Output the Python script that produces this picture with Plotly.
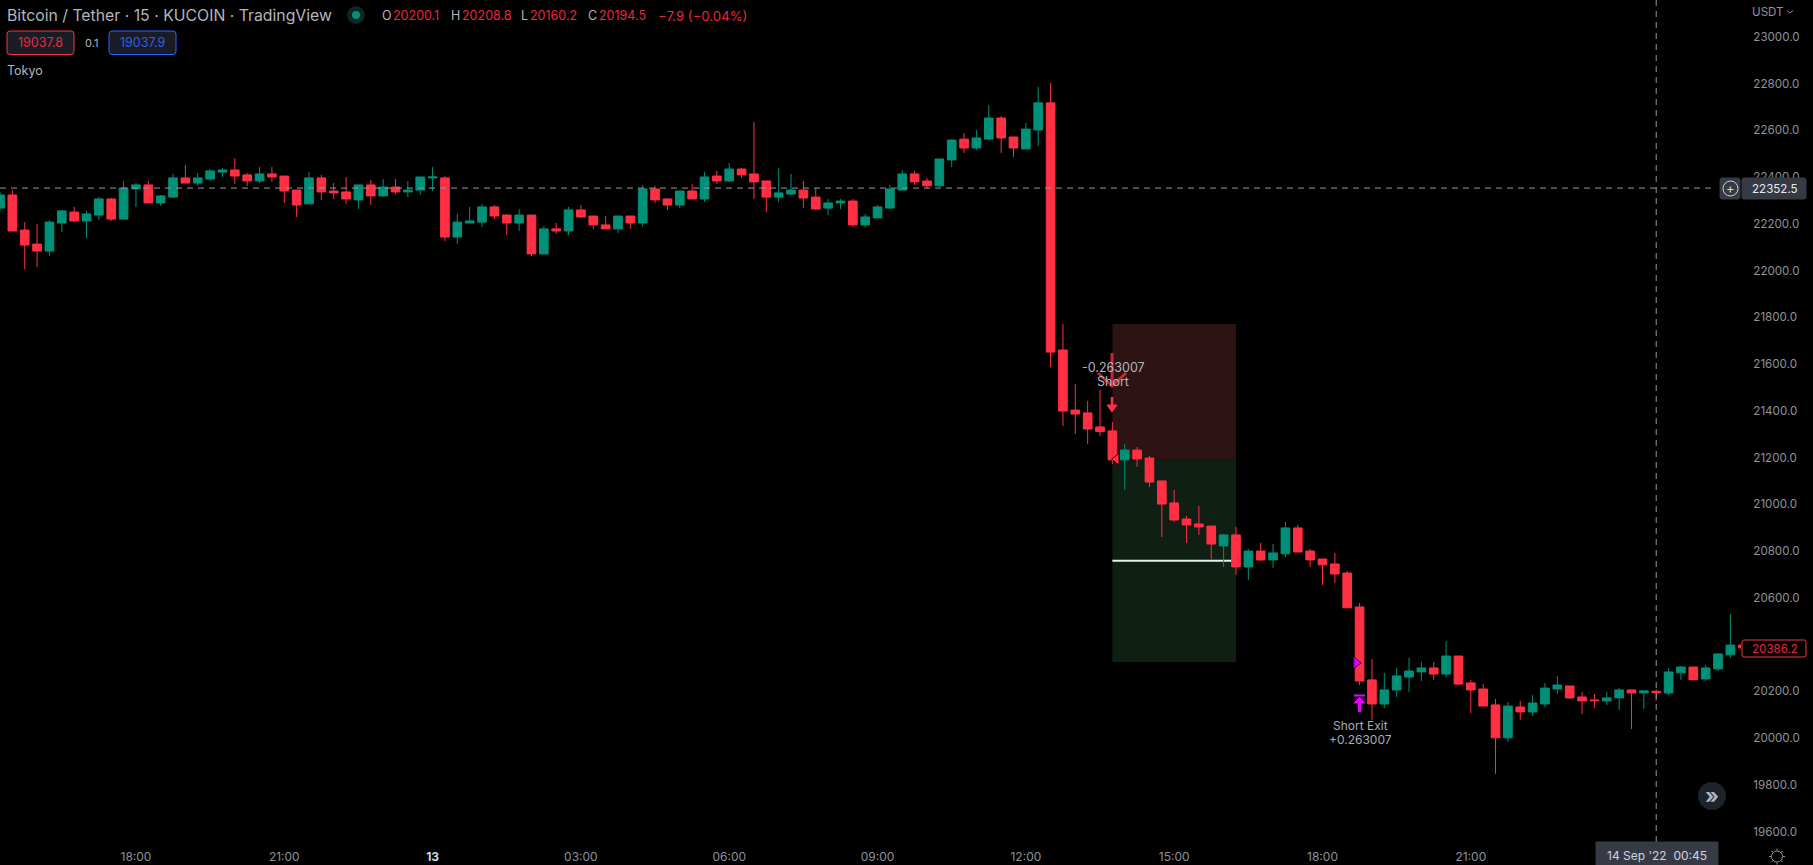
import pandas as pd
import plotly.graph_objects as go

# 15 minute candles from 12 Sep 2022 15:15
opens = [22267, 22323, 22173, 22113, 22083, 22203, 22250, 22212, 22237, 22306, 22220, 22349, 22366, 22289, 22314, 22396, 22374, 22391, 22421, 22430,
         22409, 22383, 22413, 22404, 22344, 22285, 22396, 22340, 22336, 22302, 22366, 22319, 22357, 22336, 22344, 22396, 22396, 22143, 22203, 22207,
         22272, 22237, 22203, 22237, 22071, 22178, 22169, 22259, 22233, 22195, 22178, 22233, 22203, 22349, 22306, 22280, 22340, 22306, 22404, 22383,
         22434, 22413, 22383, 22314, 22327, 22344, 22314, 22267, 22289, 22297, 22195, 22225, 22267, 22344, 22413, 22383, 22362, 22473, 22562, 22524,
         22562, 22652, 22571, 22520, 22601, 22717, 21660, 21403, 21391, 21331, 21314, 21190, 21232, 21198, 21100, 21006, 20937, 20916, 20907, 20822,
         20869, 20732, 20800, 20762, 20788, 20899, 20800, 20766, 20745, 20706, 20561, 20249, 20146, 20206, 20261, 20283, 20300, 20274, 20351, 20236,
         20210, 20142, 20001, 20133, 20112, 20146, 20210, 20223, 20176, 20163, 20159, 20172, 20206, 20193, 20200.1, 20193, 20279, 20304, 20253, 20296,
         20356, 20398]
highs = [22336, 22344, 22207, 22199, 22216, 22259, 22272, 22255, 22314, 22310, 22383, 22374, 22383, 22323, 22413, 22451, 22417, 22434, 22438, 22481,
         22417, 22443, 22443, 22404, 22344, 22421, 22409, 22374, 22400, 22366, 22387, 22391, 22391, 22383, 22400, 22443, 22404, 22242, 22272, 22285,
         22280, 22242, 22263, 22237, 22190, 22203, 22272, 22280, 22233, 22233, 22233, 22233, 22366, 22362, 22310, 22340, 22370, 22421, 22426, 22460,
         22438, 22635, 22383, 22438, 22413, 22383, 22353, 22306, 22306, 22306, 22242, 22280, 22366, 22430, 22426, 22396, 22477, 22562, 22588, 22601,
         22708, 22661, 22571, 22631, 22785, 22802, 21771, 21515, 21442, 21489, 21352, 21258, 21245, 21207, 21100, 21061, 20950, 20993, 20907, 20873,
         20903, 20809, 20835, 20830, 20924, 20912, 20809, 20766, 20792, 20715, 20578, 20338, 20279, 20300, 20343, 20326, 20326, 20415, 20351, 20249,
         20231, 20167, 20155, 20159, 20184, 20236, 20266, 20223, 20197, 20189, 20197, 20214, 20206, 20202, 20208.8, 20300, 20309, 20304, 20313, 20364,
         20531, 20398]
lows = [22255, 22169, 22006, 22015, 22062, 22165, 22207, 22139, 22216, 22212, 22220, 22272, 22289, 22276, 22310, 22374, 22362, 22383, 22400, 22370,
        22362, 22374, 22379, 22289, 22229, 22285, 22302, 22306, 22285, 22263, 22280, 22314, 22327, 22314, 22323, 22340, 22126, 22113, 22203, 22186,
        22220, 22152, 22169, 22062, 22071, 22156, 22152, 22225, 22178, 22178, 22160, 22178, 22186, 22289, 22259, 22267, 22306, 22293, 22370, 22379,
        22396, 22306, 22250, 22293, 22323, 22267, 22259, 22237, 22263, 22186, 22186, 22225, 22263, 22344, 22366, 22353, 22357, 22443, 22503, 22515,
        22562, 22503, 22486, 22520, 22533, 21587, 21335, 21301, 21258, 21292, 21172, 21061, 21160, 21074, 20860, 20924, 20835, 20869, 20766, 20732,
        20698, 20676, 20758, 20728, 20775, 20796, 20732, 20655, 20664, 20557, 20227, 20078, 20129, 20176, 20197, 20244, 20249, 20261, 20227, 20107,
        20137, 19847, 19983, 20078, 20095, 20133, 20189, 20167, 20103, 20129, 20142, 20120, 20039, 20125, 20160.2, 20184, 20249, 20249, 20244, 20287,
        20343, 20386.2]
closes = [22323, 22169, 22109, 22083, 22207, 22255, 22212, 22242, 22306, 22220, 22353, 22366, 22289, 22319, 22396, 22374, 22396, 22426, 22430, 22404,
          22383, 22413, 22400, 22340, 22280, 22396, 22336, 22332, 22306, 22366, 22319, 22357, 22336, 22344, 22400, 22400, 22143, 22207, 22212, 22272,
          22233, 22203, 22237, 22071, 22178, 22169, 22259, 22229, 22195, 22178, 22233, 22203, 22349, 22302, 22280, 22340, 22306, 22400, 22383, 22434,
          22409, 22379, 22314, 22332, 22344, 22310, 22263, 22289, 22297, 22195, 22229, 22272, 22349, 22413, 22379, 22362, 22477, 22558, 22524, 22567,
          22652, 22567, 22524, 22605, 22717, 21651, 21399, 21386, 21322, 21311, 21190, 21232, 21194, 21095, 21001, 20933, 20912, 20903, 20830, 20869,
          20732, 20800, 20762, 20792, 20899, 20796, 20762, 20741, 20702, 20557, 20244, 20146, 20206, 20266, 20287, 20300, 20274, 20351, 20231, 20206,
          20137, 20001, 20137, 20112, 20150, 20214, 20227, 20172, 20159, 20160, 20172, 20206, 20193, 20202, 20194.5, 20283, 20304, 20249, 20300, 20360,
          20398, 20386.2]

start_time = pd.Timestamp("2022-09-12 15:15")
times = pd.date_range(start_time, periods=len(opens), freq="15min")

# 20400 sits behind the last price label, TradingView drops it
price_ticks = [19600, 19800, 20000, 20200, 20600, 20800, 21000, 21200, 21400, 21600, 21800, 22000, 22200, 22400, 22600, 22800, 23000]
time_tick_values = ["2022-09-12 18:00", "2022-09-12 21:00", "2022-09-13 00:00", "2022-09-13 03:00", "2022-09-13 06:00",
                    "2022-09-13 09:00", "2022-09-13 12:00", "2022-09-13 15:00", "2022-09-13 18:00", "2022-09-13 21:00"]
time_tick_labels = ["18:00", "21:00", "<b style='color:#d1d4dc'>13</b>", "03:00", "06:00", "09:00", "12:00", "15:00", "18:00", "21:00"]

# trade box
box_start = times[90]
box_end = times[100]
stop_price = 21771
entry_price = 21193
target_price = 20325
mid_price = 20759
cross_price = 22352.5
cross_time = "2022-09-14 00:45"

UP = "#009178"
DOWN = "#ff3044"
MAGENTA = "#e600ff"
TEXT = "#8f929b"
PRICE_RED = "#e8283e"
FONT = "Inter"
W, H = 1813, 865
PLOT_W, PLOT_H = 1741, 842


def fx(px):
    return px / PLOT_W


def fy(py):
    return 1 - py / PLOT_H


fig = go.Figure()
fig.add_trace(go.Candlestick(
    x=times, open=opens, high=highs, low=lows, close=closes,
    increasing=dict(line=dict(color=UP, width=1), fillcolor=UP),
    decreasing=dict(line=dict(color=DOWN, width=1), fillcolor=DOWN),
    whiskerwidth=0, showlegend=False, hoverinfo="skip",
))
# entry and exit markers
fig.add_trace(go.Scatter(x=[times[90] + pd.Timedelta(minutes=5)], y=[21193], mode="markers", showlegend=False, hoverinfo="skip",
                         marker=dict(symbol="triangle-left", size=10, color=DOWN, line=dict(color="#400010", width=1))))
fig.add_trace(go.Scatter(x=[times[110] - pd.Timedelta(minutes=4)], y=[20322], mode="markers", showlegend=False, hoverinfo="skip",
                         marker=dict(symbol="triangle-right", size=10, color=MAGENTA, line=dict(color="#400050", width=1))))

fig.add_shape(type="rect", x0=box_start, x1=box_end, y0=entry_price, y1=stop_price, fillcolor="#2e1314", line_width=0, layer="below")
fig.add_shape(type="rect", x0=box_start, x1=box_end, y0=target_price, y1=entry_price, fillcolor="#101f14", line_width=0, layer="below")
fig.add_shape(type="line", x0=box_start, x1=box_end, y0=mid_price, y1=mid_price, line=dict(color="#e4f2e4", width=2), layer="below")

# crosshair
fig.add_shape(type="line", xref="paper", x0=0, x1=fx(1716), y0=cross_price, y1=cross_price, line=dict(color="#9598a1", width=1, dash="6px,5px"))
fig.add_shape(type="line", yref="paper", x0=cross_time, x1=cross_time, y0=0, y1=1, line=dict(color="#9598a1", width=1, dash="6px,5px"))


def panel(x0, y0, x1, y1, fill, border=None, r=2):
    xa, xb, ya, yb = fx(x0), fx(x1), fy(y0), fy(y1)
    dx, dy = r / PLOT_W, r / PLOT_H
    path = (f"M {xa + dx} {ya} L {xb - dx} {ya} Q {xb} {ya} {xb} {ya - dy} L {xb} {yb + dy} Q {xb} {yb} {xb - dx} {yb} "
            f"L {xa + dx} {yb} Q {xa} {yb} {xa} {yb + dy} L {xa} {ya - dy} Q {xa} {ya} {xa + dx} {ya} Z")
    fig.add_shape(type="path", xref="paper", yref="paper", path=path, fillcolor=fill, line=dict(color=border or fill, width=1))


def glyph(points, color, width=0, fill=None):
    # small icon drawn in page pixels
    path = "M " + " L ".join(f"{fx(a)} {fy(b)}" for a, b in points)
    if fill:
        path += " Z"
    fig.add_shape(type="path", xref="paper", yref="paper", path=path, fillcolor=fill, line=dict(color=color, width=width))


def label(px, py, text, color=TEXT, size=12, anchor="left", family=FONT):
    fig.add_annotation(xref="paper", yref="paper", x=fx(px), y=fy(py), text=text, showarrow=False, xanchor=anchor, yanchor="middle",
                       font=dict(family=family, size=size, color=color), borderpad=0, borderwidth=0)


# header
label(7, 15.5, "Bitcoin / Tether · 15 · KUCOIN · TradingView", "#b2b5be", 15.8)
fig.add_shape(type="circle", xref="paper", yref="paper", x0=fx(347), x1=fx(365), y0=fy(24), y1=fy(6), fillcolor="#0c2622", line_width=0)
fig.add_shape(type="circle", xref="paper", yref="paper", x0=fx(352), x1=fx(360), y0=fy(19), y1=fy(11), fillcolor=UP, line_width=0)
for px, text, color, size in [(382, "O", "#b2b5be", 12.5), (393, "20200.1", PRICE_RED, 12.5), (451, "H", "#b2b5be", 12.5), (462, "20208.8", PRICE_RED, 12.5),
                              (521, "L", "#b2b5be", 12.5), (530, "20160.2", PRICE_RED, 12.5), (588, "C", "#b2b5be", 12.5), (599, "20194.5", PRICE_RED, 12.5),
                              (658, "−7.9 (−0.04%)", PRICE_RED, 13.2)]:
    label(px, 15.5, text, color, size)
panel(7, 31, 74, 54.5, "#191c25", "#f23645", 3)
label(40.5, 43, "19037.8", PRICE_RED, 12.5, "center")
label(91, 43, "0.1", "#b2b5be", 11, "center")
panel(109, 31, 176, 54.5, "#191c25", "#2962ff", 3)
label(142.5, 43, "19037.9", "#2d5fe8", 12.5, "center")
label(7, 71, "Tokyo", "#b2b5be", 12.5)

# trade arrows and labels
faded = "rgba(255,48,68,0.75)"
glyph([(1112, 353), (1112, 385)], faded, 3)
glyph([(1098, 373), (1112, 386), (1126, 373)], faded, 3)
glyph([(1112, 397), (1112, 406)], DOWN, 2.5)
glyph([(1107, 405), (1117, 405), (1112, 412)], DOWN, 1, DOWN)
glyph([(1354, 695.5), (1365, 695.5)], MAGENTA, 2)
glyph([(1359.5, 703), (1359.5, 712)], MAGENTA, 3)
glyph([(1354, 703), (1365, 703), (1359.5, 697.5)], MAGENTA, 1, MAGENTA)
label(1113, 367.5, "-0.263007", "#b2b5be", 12.5, "center")
label(1113, 381.5, "Short", "#b2b5be", 12.5, "center")
label(1360, 725, "Short Exit", "#a8abb4", 12, "center")
label(1360, 739, "+0.263007", "#a8abb4", 12, "center")

# price axis extras
label(1752, 12.5, "USDT", TEXT, 11.6)
glyph([(1787, 10.5), (1790, 13), (1793, 10.5)], TEXT, 1)
panel(1720, 178, 1740, 199, "#363a45")
panel(1742, 178, 1806, 199, "#363a45")
fig.add_shape(type="circle", xref="paper", yref="paper", x0=fx(1723), x1=fx(1738), y0=fy(196), y1=fy(181), line=dict(color="#d1d4dc", width=1))
label(1730.5, 188, "+", "#d1d4dc", 13, "center")
label(1752, 188.5, "22352.5", "#e8e9ed", 11.6)
panel(1742, 640, 1806, 657, "#000000", "#f23645")
label(1752, 648.5, "20386.2", PRICE_RED, 11.6)

# time axis extras
panel(1596, 842, 1718, 866, "#363a45", None, 0)
label(1657, 855, "14 Sep '22  00:45", "#d1d4dc", 12, "center")
fig.add_shape(type="circle", xref="paper", yref="paper", x0=fx(1698), x1=fx(1726), y0=fy(810), y1=fy(782), fillcolor="#1e222d", line_width=0)
label(1712, 795, "<b>»</b>", "#b2b5be", 21, "center")
fig.add_shape(type="circle", xref="paper", yref="paper", x0=fx(1771.5), x1=fx(1782.5), y0=fy(862), y1=fy(851), line=dict(color=TEXT, width=1))
for a, b, c, d in [(1777, 848.5, 1777, 850.5), (1777, 862.5, 1777, 864.5), (1769, 856.5, 1771, 856.5), (1783, 856.5, 1785, 856.5),
                   (1771.5, 851, 1773, 852.5), (1781, 860.5, 1782.5, 862), (1782.5, 851, 1781, 852.5), (1773, 860.5, 1771.5, 862)]:
    glyph([(a, b), (c, d)], TEXT, 1)

fig.update_layout(
    width=W, height=H,
    margin=dict(l=0, r=W - PLOT_W, t=0, b=H - PLOT_H, autoexpand=False),
    paper_bgcolor="#000000", plot_bgcolor="#000000",
    font=dict(family=FONT, size=12, color=TEXT),
    showlegend=False,
    boxgap=0.3, boxgroupgap=0,
    xaxis=dict(
        type="date", rangeslider=dict(visible=False), showgrid=False, zeroline=False, showline=False,
        range=[start_time, start_time + pd.Timedelta(minutes=15 * 140.86)],
        tickmode="array", tickvals=time_tick_values, ticktext=time_tick_labels,
        ticks="outside", ticklen=4, tickcolor="#000000", tickfont=dict(family=FONT, size=12, color=TEXT),
    ),
    yaxis=dict(
        side="right", showgrid=False, zeroline=False, showline=False,
        range=[19555.6, 23157],
        tickmode="array", tickvals=price_ticks, ticktext=[f"{p:.1f}" for p in price_ticks],
        ticks="outside", ticklen=9, tickcolor="#000000", tickfont=dict(family=FONT, size=11.6, color=TEXT),
    ),
)

fig.write_html("out.html", config=dict(displayModeBar=False),
               post_script="document.body.style.margin='0';document.body.style.background='#000';document.documentElement.style.overflow='hidden';")
